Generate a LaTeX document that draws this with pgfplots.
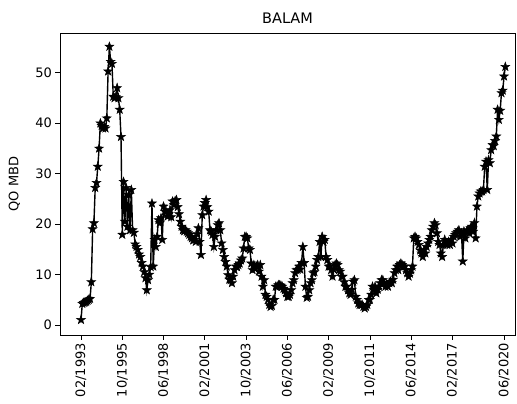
\documentclass[border=0pt]{standalone}
\usepackage{fontspec}
\setmainfont{DejaVu Sans}
\usepackage{pgfplots}
\pgfplotsset{compat=1.18}

% filled five-pointed star, like matplotlib's '*' marker
\pgfdeclareplotmark{fstar}{%
  \pgfpathmoveto{\pgfpointpolar{90}{\pgfplotmarksize}}%
  \pgfpathlineto{\pgfpointpolar{126}{0.4\pgfplotmarksize}}%
  \pgfpathlineto{\pgfpointpolar{162}{\pgfplotmarksize}}%
  \pgfpathlineto{\pgfpointpolar{198}{0.4\pgfplotmarksize}}%
  \pgfpathlineto{\pgfpointpolar{234}{\pgfplotmarksize}}%
  \pgfpathlineto{\pgfpointpolar{270}{0.4\pgfplotmarksize}}%
  \pgfpathlineto{\pgfpointpolar{306}{\pgfplotmarksize}}%
  \pgfpathlineto{\pgfpointpolar{342}{0.4\pgfplotmarksize}}%
  \pgfpathlineto{\pgfpointpolar{18}{\pgfplotmarksize}}%
  \pgfpathlineto{\pgfpointpolar{54}{0.4\pgfplotmarksize}}%
  \pgfpathclose
  \pgfusepathqfillstroke}

\begin{document}
\begin{tikzpicture}
\begin{axis}[
  name=ax,
  scale only axis, width=455pt, height=302pt,
  xmin=-16.3, xmax=336.5, ymin=-2, ymax=57.9,
  title={\fontsize{14.5}{17}\selectfont BALAM},
  title style={yshift=0pt},
  ylabel={QO MBD},
  ylabel style={at={(axis description cs:-0.08,0.5)}, anchor=south},
  font=\fontsize{13}{15}\selectfont,
  /pgf/number format/assume math mode=true,
  xtick={0,32,64,96,128,160,192,224,256,288,328},
  xticklabels={02/1993,10/1995,06/1998,02/2001,10/2003,06/2006,02/2009,10/2011,06/2014,02/2017,06/2020},
  x tick label style={rotate=90, anchor=east},
  ytick={0,10,...,50},
  tick pos=left, tick align=outside, major tick length=4.6pt,
  tick style={black, line width=0.8pt},
  axis line style={line width=0.8pt},
]
\addplot[black, line width=1.4pt, mark=fstar, mark size=4.6pt,
  mark options={fill=black, draw=black, line width=0.5pt, solid}] coordinates {
(0,1.0) (1,4.2) (2,4.4) (3,4.5) (4,4.6) (5,4.8) (6,5.0) (7,5.2) (8,8.5) (9,19.0)
(10,20.2) (11,27.2) (12,28.2) (13,31.4) (14,35.0) (15,40.0) (16,39.5) (17,39.0) (18,39.3) (19,39.0)
(20,41.0) (21,50.3) (22,55.2) (23,52.2) (24,51.8) (25,45.3) (26,45.0) (27,45.2) (28,47.0) (29,45.0)
(30,42.7) (31,37.3) (32,17.9) (33,28.4) (34,20.5) (35,27.2) (36,19.5) (37,25.8) (38,18.8) (39,26.8)
(40,18.8) (41,18.3) (42,16.0) (43,15.5) (44,14.9) (45,14.0) (46,13.5) (47,12.3) (48,11.6) (49,10.5)
(50,9.3) (51,6.9) (52,8.9) (53,10.0) (54,11.5) (55,24.1) (56,11.6) (57,16.9) (58,15.5) (59,17.5)
(60,20.8) (61,20.2) (62,21.2) (63,16.9) (64,23.5) (65,22.5) (66,22.4) (67,21.5) (68,22.0) (69,22.8)
(70,21.4) (71,24.5) (72,23.8) (73,24.6) (74,24.8) (75,23.4) (76,22.0) (77,20.5) (78,19.5) (79,18.8)
(80,18.6) (81,18.8) (82,18.5) (83,18.2) (84,17.9) (85,17.5) (86,17.2) (87,16.8) (88,16.9) (89,16.5)
(90,18.0) (91,19.2) (92,16.5) (93,13.9) (94,21.8) (95,23.5) (96,24.2) (97,24.8) (98,23.4) (99,22.5)
(100,18.8) (101,18.5) (102,17.9) (103,15.5) (104,17.5) (105,18.8) (106,19.8) (107,20.2) (108,18.8) (109,16.2)
(110,14.9) (111,13.5) (112,12.5) (113,11.6) (114,9.9) (115,9.0) (116,8.9) (117,8.3) (118,9.6) (119,10.9)
(120,11.6) (121,11.5) (122,11.9) (123,12.2) (124,12.8) (125,13.2) (126,15.2) (127,17.5) (128,17.5) (129,17.2)
(130,15.2) (131,14.9) (132,12.2) (133,10.9) (134,11.9) (135,11.2) (136,11.6) (137,11.9) (138,10.6) (139,11.9)
(140,9.6) (141,7.6) (142,8.9) (143,6.0) (144,5.6) (145,5.0) (146,4.0) (147,3.6) (148,3.8) (149,5.0)
(150,5.0) (151,7.6) (152,7.6) (153,7.9) (154,7.9) (155,7.8) (156,7.6) (157,7.2) (158,6.9) (159,6.3)
(160,5.6) (161,5.6) (162,6.0) (163,6.9) (164,8.3) (165,8.9) (166,10.3) (167,10.9) (168,11.0) (169,11.6)
(170,11.0) (171,12.3) (172,15.5) (173,12.3) (174,7.6) (175,5.4) (176,5.6) (177,6.9) (178,8.3) (179,8.9)
(180,10.3) (181,10.5) (182,11.6) (183,12.9) (184,13.5) (185,16.5) (186,13.5) (187,17.5) (188,16.5) (189,16.9)
(190,13.5) (191,12.9) (192,11.6) (193,11.6) (194,10.9) (195,9.6) (196,11.0) (197,11.9) (198,12.2) (199,11.9)
(200,10.9) (201,10.6) (202,9.6) (203,9.6) (204,8.5) (205,7.6) (206,7.6) (207,6.9) (208,6.3) (209,6.0)
(210,7.0) (211,8.6) (212,8.9) (213,5.6) (214,5.0) (215,4.3) (216,4.0) (217,4.0) (218,4.0) (219,3.6)
(220,3.3) (221,3.6) (222,4.0) (223,5.0) (224,5.0) (225,6.0) (226,7.6) (227,7.0) (228,7.6) (229,6.3)
(230,7.0) (231,7.6) (232,8.3) (233,8.9) (234,8.9) (235,8.3) (236,7.6) (237,8.0) (238,7.6) (239,8.3)
(240,8.6) (241,8.3) (242,9.0) (243,10.3) (244,10.9) (245,11.6) (246,10.9) (247,11.9) (248,12.2) (249,11.9)
(250,11.6) (251,11.6) (252,10.9) (253,10.3) (254,9.6) (255,10.2) (256,10.9) (257,11.6) (258,17.2) (259,17.5)
(260,17.2) (261,16.5) (262,15.9) (263,14.8) (264,14.2) (265,13.5) (266,14.9) (267,14.2) (268,15.5) (269,16.2)
(270,16.9) (271,17.5) (272,18.8) (273,19.5) (274,20.2) (275,19.8) (276,18.2) (277,16.5) (278,15.9) (279,14.2)
(280,13.5) (281,15.9) (282,16.9) (283,16.2) (284,15.9) (285,16.5) (286,15.9) (287,16.9) (288,16.2) (289,17.5)
(290,17.9) (291,18.2) (292,18.5) (293,18.8) (294,17.5) (295,18.2) (296,12.6) (297,18.5) (298,17.2) (299,18.5)
(300,18.8) (301,18.2) (302,19.2) (303,19.5) (304,18.5) (305,20.2) (306,17.2) (307,23.5) (308,25.5) (309,26.1)
(310,26.5) (311,26.5) (312,26.8) (313,31.4) (314,32.4) (315,26.8) (316,32.7) (317,32.1) (318,34.7) (319,35.7)
(320,35.5) (321,36.5) (322,37.4) (323,42.7) (324,40.7) (325,42.5) (326,46.0) (327,46.5) (328,49.3) (329,51.2)
};
\end{axis}
\pgfresetboundingbox
\path[use as bounding box] ([shift={(-60pt,-69pt)}]ax.south west) rectangle ([shift={(2pt,33pt)}]ax.north east);
\end{tikzpicture}
\end{document}
